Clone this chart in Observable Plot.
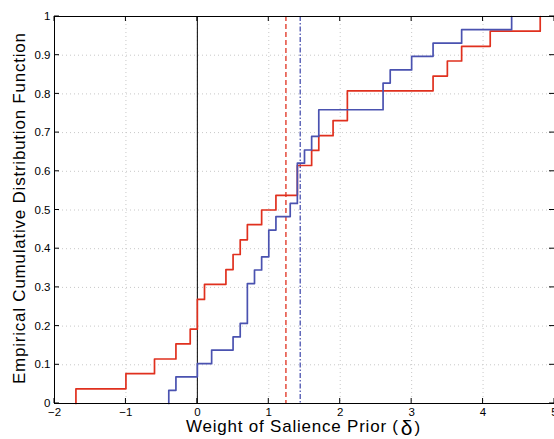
<!DOCTYPE html>
<html>
<head>
<meta charset="utf-8">
<script src="https://cdn.jsdelivr.net/npm/d3@7"></script>
<script src="https://cdn.jsdelivr.net/npm/@observablehq/plot@0.6"></script>
<style>
  html, body { margin: 0; padding: 0; background: #fff; }
  svg { display: block; }
</style>
</head>
<body>
<div id="chart"></div>
<script>
// Tick values
const xTicks = [-2, -1, 0, 1, 2, 3, 4, 5];
const yTicks = [0, 0.1, 0.2, 0.3, 0.4, 0.5, 0.6, 0.7, 0.8, 0.9, 1];

// Red empirical CDF (step points)
const redX = [-1.7, -1.7, -1.0, -0.6, -0.3, -0.1, 0.0, 0.1, 0.4, 0.5, 0.6, 0.7, 0.9, 1.1, 1.4, 1.6, 1.7, 1.9, 2.1, 3.3, 3.5, 3.7, 4.1, 4.8];
const redY = [0, 0.038, 0.077, 0.115, 0.154, 0.192, 0.269, 0.308, 0.346, 0.385, 0.423, 0.462, 0.500, 0.538, 0.615, 0.654, 0.692, 0.731, 0.808, 0.846, 0.885, 0.923, 0.962, 1.0];

// Blue empirical CDF
const blueX = [-0.4, -0.4, -0.3, 0.0, 0.2, 0.5, 0.6, 0.7, 0.8, 0.9, 1.0, 1.1, 1.3, 1.4, 1.5, 1.6, 1.7, 2.6, 2.7, 3.0, 3.3, 3.7, 4.4];
const blueY = [0, 0.034, 0.069, 0.103, 0.138, 0.172, 0.207, 0.310, 0.345, 0.379, 0.448, 0.483, 0.517, 0.621, 0.655, 0.690, 0.759, 0.828, 0.862, 0.897, 0.931, 0.966, 1.0];

// Mean markers
const redMean = [1.24];
const blueMean = [1.44];
const zeroLine = [0];

const red = redX.map((x, i) => ({x, y: redY[i]}));
const blue = blueX.map((x, i) => ({x, y: blueY[i]}));

const RED = "#e0301e";
const BLUE = "#4a52b0";
const FONT = "'Liberation Sans', Arial, Helvetica, sans-serif";
const M = {top: 16, bottom: 36, left: 54, right: 0};
const W = 554, H = 439;

const plot = Plot.plot({
  width: W,
  height: H,
  marginLeft: M.left,
  marginRight: M.right,
  marginTop: M.top,
  marginBottom: M.bottom,
  style: {fontFamily: FONT, fontSize: "11.5px", color: "#000", background: "#fff", overflow: "visible"},
  x: {domain: [-2, 5], ticks: xTicks},
  y: {domain: [0, 1], ticks: yTicks},
  marks: [
    Plot.gridX(xTicks, {stroke: "#c8c8c8", strokeOpacity: 1, strokeDasharray: "1,3"}),
    Plot.gridY(yTicks, {stroke: "#c8c8c8", strokeOpacity: 1, strokeDasharray: "1,3"}),
    Plot.ruleX(zeroLine, {stroke: "#000", strokeWidth: 1}),
    Plot.ruleX(redMean, {stroke: RED, strokeWidth: 1.3, strokeDasharray: "5,3"}),
    Plot.ruleX(blueMean, {stroke: BLUE, strokeWidth: 1.3, strokeDasharray: "5,2,1.5,2"}),
    Plot.line(red, {x: "x", y: "y", curve: "step-after", stroke: RED, strokeWidth: 1.7}),
    Plot.line(blue, {x: "x", y: "y", curve: "step-after", stroke: BLUE, strokeWidth: 1.7}),
    Plot.axisX(xTicks, {anchor: "bottom", tickSize: 0, tickPadding: 4, label: null,
      tickFormat: d => d < 0 ? "\u2212" + Math.abs(d) : String(d)}),
    Plot.axisY(yTicks, {anchor: "left", tickSize: 0, tickPadding: 4, label: null,
      tickFormat: d => String(d)}),
    Plot.frame({stroke: "#000", strokeWidth: 1})
  ]
});

document.getElementById("chart").appendChild(plot);

// Inward ticks (MATLAB style) positioned with the plot's own scales
const svg = d3.select(plot);
const sx = plot.scale("x"), sy = plot.scale("y");
const g = svg.append("g").attr("stroke", "#000").attr("stroke-width", 1);
const yTop = M.top, yBot = H - M.bottom, xLeft = M.left, xRight = W - M.right;
for (const t of xTicks) {
  const px = sx.apply(t);
  g.append("line").attr("x1", px).attr("x2", px).attr("y1", yBot).attr("y2", yBot - 5);
  g.append("line").attr("x1", px).attr("x2", px).attr("y1", yTop).attr("y2", yTop + 5);
}
for (const t of yTicks) {
  const py = sy.apply(t);
  g.append("line").attr("x1", xLeft).attr("x2", xLeft + 5).attr("y1", py).attr("y2", py);
  g.append("line").attr("x1", xRight).attr("x2", xRight - 5).attr("y1", py).attr("y2", py);
}

// Axis titles
const xl = svg.append("text")
  .attr("x", 186).attr("y", 432)
  .attr("text-anchor", "start")
  .attr("font-family", FONT).attr("font-size", 17).attr("fill", "#000");
xl.append("tspan").attr("textLength", 212).attr("lengthAdjust", "spacing").text("Weight of Salience Prior (");
xl.append("tspan").attr("dx", 2).attr("dy", 3).attr("font-size", 21).text("\u03b4");
xl.append("tspan").attr("dx", 2).attr("dy", -2).text(")");

svg.append("text")
  .attr("transform", "translate(25,208.5) rotate(-90)")
  .attr("text-anchor", "middle")
  .attr("font-family", FONT).attr("font-size", 17).attr("fill", "#000")
  .attr("textLength", 351).attr("lengthAdjust", "spacing")
  .text("Empirical Cumulative Distribution Function");
</script>
</body>
</html>
